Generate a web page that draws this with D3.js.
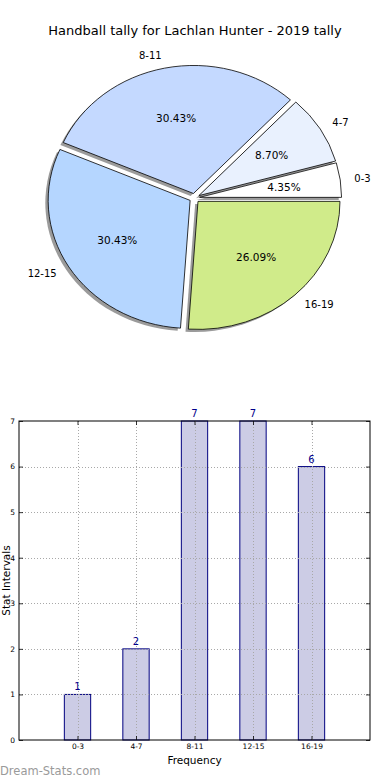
<!DOCTYPE html>
<html>
<head>
<meta charset="utf-8">
<script src="https://cdn.jsdelivr.net/npm/d3@7"></script>
<style>
  body { margin: 0; background: #fff; }
  svg { display: block; font-family: "DejaVu Sans", sans-serif; }
</style>
</head>
<body>
<div class="forSvg"></div>
<script>
// -DATA-
const categories = ["0-3", "4-7", "8-11", "12-15", "16-19"];
const tally = [1, 2, 7, 7, 6];
const yTicks = [0, 1, 2, 3, 4, 5, 6, 7];

// pie colours, one per slice
const pieColors = ["#ffffff", "#e9f1fe", "#c4d9ff", "#b5d6ff", "#d0eb8a"];

// -SIZES-
const svg_w = 390;
const svg_h = 780;

const svg = d3.select(".forSvg")
    .append("svg")
    .attr("width", svg_w)
    .attr("height", svg_h);

// -TITLE-
svg.append("text")
    .attr("x", 195)
    .attr("y", 35)
    .attr("text-anchor", "middle")
    .attr("font-size", "13px")
    .attr("fill", "#000")
    .text("Handball tally for Lachlan Hunter - 2019 tally");

// -PIE-
// matplotlib style: start at 3 o'clock, go counter clockwise
const cx = 194.5, cy = 198;
const rx = 142, ry = 128;
const explode = 0.036;

const pie = d3.pie()
    .sort(null)
    .startAngle(Math.PI / 2)
    .endAngle(Math.PI / 2 - 2 * Math.PI);

const arcs = pie(tally);
const total = d3.sum(tally);

const arc = d3.arc().innerRadius(0).outerRadius(1);

const pieG = svg.append("g")
    .attr("transform", "translate(" + cx + "," + cy + ")");

const mid = (d) => (d.startAngle + d.endAngle) / 2;

// shadows first, below all wedges
pieG.selectAll("path.shadow")
    .data(arcs)
    .enter()
    .append("path")
    .attr("class", "shadow")
    .attr("transform", (d) => {
        const a = mid(d);
        const dx = (explode * Math.sin(a) - 0.02) * rx;
        const dy = (-explode * Math.cos(a) + 0.02) * ry;
        return "translate(" + dx + "," + dy + ") scale(" + rx + "," + ry + ")";
    })
    .attr("d", arc)
    .attr("fill", "#7a7a7a")
    .attr("opacity", 0.75);

pieG.selectAll("path.wedge")
    .data(arcs)
    .enter()
    .append("path")
    .attr("class", "wedge")
    .attr("transform", (d) => {
        const a = mid(d);
        const dx = explode * Math.sin(a) * rx;
        const dy = -explode * Math.cos(a) * ry;
        return "translate(" + dx + "," + dy + ") scale(" + rx + "," + ry + ")";
    })
    .attr("d", arc)
    .attr("fill", (d, i) => pieColors[i])
    .attr("stroke", "#000")
    .attr("stroke-width", 0.8)
    .attr("vector-effect", "non-scaling-stroke");

// outside labels
pieG.selectAll("text.lbl")
    .data(arcs)
    .enter()
    .append("text")
    .attr("class", "lbl")
    .attr("x", (d) => rx * (1.1 + explode) * Math.sin(mid(d)))
    .attr("y", (d) => -ry * (1.1 + explode) * Math.cos(mid(d)))
    .attr("dy", "0.35em")
    .attr("text-anchor", (d) => Math.sin(mid(d)) < 0 ? "end" : "start")
    .attr("font-size", "10px")
    .text((d, i) => categories[i]);

// percent labels
pieG.selectAll("text.pct")
    .data(arcs)
    .enter()
    .append("text")
    .attr("class", "pct")
    .attr("x", (d) => rx * (0.6 + explode) * Math.sin(mid(d)))
    .attr("y", (d) => -ry * (0.6 + explode) * Math.cos(mid(d)))
    .attr("dy", "0.35em")
    .attr("text-anchor", "middle")
    .attr("font-size", "10.5px")
    .text((d) => (d.value / total * 100).toFixed(2) + "%");

// -BAR CHART-
const plot = { left: 19, right: 370, top: 421, bottom: 740 };

const x = d3.scaleLinear()
    .domain([-1, categories.length])
    .range([plot.left, plot.right]);

const y = d3.scaleLinear()
    .domain([0, 7])
    .range([plot.bottom, plot.top]);

const barW = 0.45;

const bars = svg.append("g");

bars.selectAll("rect")
    .data(tally)
    .enter()
    .append("rect")
    .attr("x", (d, i) => x(i - barW / 2))
    .attr("y", (d) => y(d))
    .attr("width", x(barW) - x(0))
    .attr("height", (d) => y(0) - y(d))
    .attr("fill", "#cccce5")
    .attr("stroke", "#000080")
    .attr("stroke-width", 1);

// grid (drawn over the bars)
const grid = svg.append("g")
    .attr("stroke", "#a8a8a8")
    .attr("stroke-width", 1)
    .attr("stroke-dasharray", "1,2");

grid.selectAll("line.h")
    .data(yTicks.slice(1, -1))
    .enter()
    .append("line")
    .attr("x1", plot.left)
    .attr("x2", plot.right)
    .attr("y1", (d) => Math.round(y(d)) + 0.5)
    .attr("y2", (d) => Math.round(y(d)) + 0.5);

grid.selectAll("line.v")
    .data(categories)
    .enter()
    .append("line")
    .attr("x1", (d, i) => Math.round(x(i)) + 0.5)
    .attr("x2", (d, i) => Math.round(x(i)) + 0.5)
    .attr("y1", plot.top)
    .attr("y2", plot.bottom);

// axes with inward ticks
const yAxis = d3.axisLeft(y)
    .tickValues(yTicks)
    .tickFormat(d3.format("d"))
    .tickSizeInner(-4)
    .tickSizeOuter(0)
    .tickPadding(4);

const yg = svg.append("g")
    .attr("transform", "translate(" + plot.left + ",0)")
    .call(yAxis);

const xAxis = d3.axisBottom(x)
    .tickValues(d3.range(categories.length))
    .tickFormat((d) => categories[d])
    .tickSizeInner(-4)
    .tickSizeOuter(0)
    .tickPadding(4);

const xg = svg.append("g")
    .attr("transform", "translate(0," + plot.bottom + ")")
    .call(xAxis);

// right and top inward ticks
svg.append("g")
    .attr("transform", "translate(" + plot.right + ",0)")
    .call(d3.axisRight(y).tickValues(yTicks).tickSizeInner(-4).tickSizeOuter(0).tickFormat(""));
svg.append("g")
    .attr("transform", "translate(0," + plot.top + ")")
    .call(d3.axisTop(x).tickValues(d3.range(categories.length)).tickSizeInner(-4).tickSizeOuter(0).tickFormat(""));

svg.selectAll(".domain").remove();
svg.selectAll(".tick line").attr("stroke", "#000").attr("stroke-width", 0.8);

yg.selectAll("text")
    .attr("font-family", "DejaVu Sans")
    .attr("font-size", "7.5px")
    .attr("fill", "#000");
xg.selectAll("text")
    .attr("font-family", "DejaVu Sans")
    .attr("font-size", "7.5px")
    .attr("fill", "#000");

// frame
svg.append("rect")
    .attr("x", plot.left)
    .attr("y", plot.top)
    .attr("width", plot.right - plot.left)
    .attr("height", plot.bottom - plot.top)
    .attr("fill", "none")
    .attr("stroke", "#000")
    .attr("stroke-width", 1);

// value labels above bars
svg.append("g")
    .selectAll("text")
    .data(tally)
    .enter()
    .append("text")
    .attr("x", (d, i) => x(i))
    .attr("y", (d) => y(d) - 4)
    .attr("text-anchor", "middle")
    .attr("font-size", "10px")
    .attr("fill", "#00008b")
    .text((d) => d);

// axis titles
svg.append("text")
    .attr("x", (plot.left + plot.right) / 2)
    .attr("y", 764)
    .attr("text-anchor", "middle")
    .attr("font-size", "10.5px")
    .text("Frequency");

svg.append("text")
    .attr("transform", "translate(10," + ((plot.top + plot.bottom) / 2) + ") rotate(-90)")
    .attr("text-anchor", "middle")
    .attr("font-size", "10.5px")
    .text("Stat Intervals");

// watermark
svg.append("text")
    .attr("x", 0)
    .attr("y", 775)
    .attr("font-size", "11.5px")
    .attr("fill", "#9a9a9a")
    .text("Dream-Stats.com");
</script>
</body>
</html>
